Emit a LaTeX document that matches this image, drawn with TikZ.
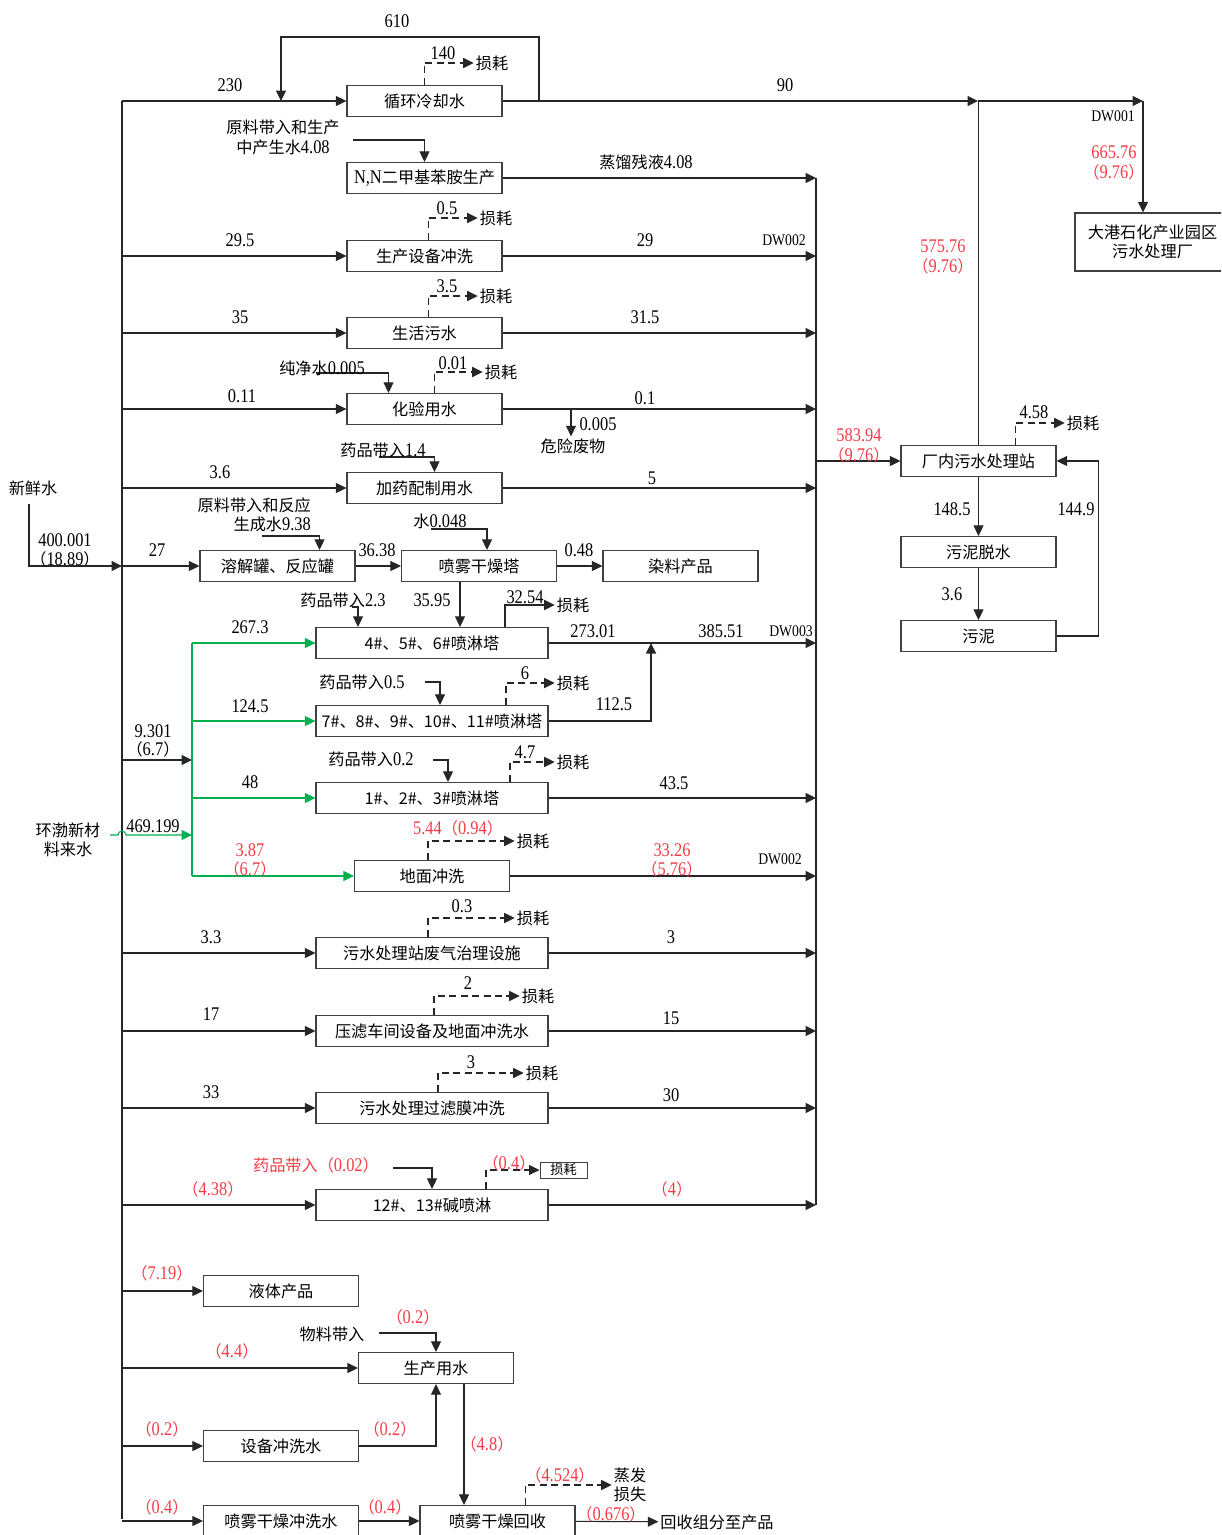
\documentclass[tikz,border=0pt]{standalone}
\usepackage{fontspec}
\setmainfont{Liberation Serif}[FakeStretch=0.85]
\newfontfamily\cjk{Noto Sans CJK SC}
\usepackage{xcolor}
\usepackage{tikz}
\usetikzlibrary{arrows.meta,calc}

\definecolor{redtxt}{RGB}{245,60,70}
\definecolor{grn}{RGB}{0,176,80}
\newcommand\fcn{\fontsize{9.2pt}{11pt}\cjk}
\newcommand\fnm{\fontsize{11pt}{11pt}\rmfamily}
\newcommand\numtxt[1]{{\fontsize{11pt}{11pt}\rmfamily #1}}
\newcommand\fwp[1]{{\fontsize{9.2pt}{11pt}\cjk （}#1{\fontsize{9.2pt}{11pt}\cjk ）}}

\begin{document}
\begin{tikzpicture}[x=0.02cm,y=-0.02cm,
            box/.style={draw=black!75,line width=0.7pt,minimum width=3.1cm,minimum height=0.62cm,inner sep=1pt,font=\fcn},
            widebox/.style={box,minimum width=4.64cm},
            flow/.style={draw=black!85,line width=0.6pt,-{Triangle[length=2.1mm,width=2mm]}},
            link/.style={draw=black!85,line width=0.6pt},
            loss/.style={flow,dash pattern=on 4pt off 2.5pt},
            gflow/.style={flow,draw=grn},
            glink/.style={link,draw=grn},
            num/.style={inner sep=1pt,font=\fnm},
            dwtag/.style={inner sep=1pt,font=\fontsize{9.2pt}{11pt}\rmfamily},
            rnum/.style={num,text=redtxt},
            cn/.style={inner sep=1pt,font=\fcn},
            rcn/.style={cn,text=redtxt}
        ]
            \useasboundingbox (0,0) rectangle (1221,1535);
            \clip (0,0) rectangle (1221,1535);

            % Process units
            \node[box] (cool) at (424.5,101) {循环冷却水};
            \node[box] (nn) at (424.5,178) {\numtxt{N,N}二甲基苯胺生产};
            \node[box] (equip) at (424.5,256) {生产设备冲洗};
            \node[box] (domestic) at (424.5,333) {生活污水};
            \node[box] (lab) at (424.5,409) {化验用水};
            \node[box] (dosing) at (424.5,488) {加药配制用水};
            \node[box] (tank) at (277.5,566) {溶解罐、反应罐};
            \node[box] (dryer) at (479,566) {喷雾干燥塔};
            \node[box] (dye) at (680.5,566) {染料产品};
            \node[widebox] (t456) at (432,643) {4\#、5\#、6\#喷淋塔};
            \node[widebox] (t7) at (432,721) {7\#、8\#、9\#、10\#、11\#喷淋塔};
            \node[widebox] (t123) at (432,798) {1\#、2\#、3\#喷淋塔};
            \node[box] (ground) at (432,876) {地面冲洗};
            \node[widebox] (gas) at (432,953) {污水处理站废气治理设施};
            \node[widebox] (press) at (432,1031) {压滤车间设备及地面冲洗水};
            \node[widebox] (membrane) at (432,1108) {污水处理过滤膜冲洗};
            \node[widebox] (alkali) at (432,1205) {12\#、13\#碱喷淋};
            \node[box] (liquid) at (281,1291) {液体产品};
            \node[box] (prodw) at (436,1368) {生产用水};
            \node[box] (equipw) at (281,1446) {设备冲洗水};
            \node[box] (dryw) at (281,1521) {喷雾干燥冲洗水};
            \node[box] (dryrec) at (497.5,1521) {喷雾干燥回收};

            % Treatment side
            \node[box] (wwtp) at (978.5,461) {厂内污水处理站};
            \node[box] (dewat) at (978.5,552) {污泥脱水};
            \node[box] (sludge) at (978.5,636) {污泥};
            \node[box,minimum height=1.16cm,align=center] (park) at (1152.5,242) {大港石化产业园区\\污水处理厂};

            % Junctions
            \coordinate (ttop) at (122,101);
            \coordinate (tbot) at (122,1519);
            \coordinate (fin) at (122,566);
            \coordinate (ctop) at (816,178);
            \coordinate (cbot) at (816,1205);
            \coordinate (j1) at (978,101);
            \coordinate (j2) at (1143,101);
            \coordinate (lpa) at (539,101);
            \coordinate (lpb) at (281,37);
            \coordinate (lpc) at (281,101);
            \coordinate (gj) at (192,760);
            \coordinate (hbin) at (110,835);
            \coordinate (mj) at (651,643);
            \coordinate (hw) at (571,409);
            \coordinate (rawin) at (353,140);
            \coordinate (pwin) at (316,373);
            \coordinate (dsin) at (379,457);
            \coordinate (rxin) at (262,536);
            \coordinate (wtin) at (431,529);
            \coordinate (c23) at (352,607);
            \coordinate (c05) at (425,682);
            \coordinate (c02) at (433,760);
            \coordinate (c002) at (393,1168);
            \coordinate (cmat) at (379,1333);
            \coordinate (pj) at ($(prodw.south)+(28,0)$);

            % Fresh water
            \node[cn] (fresh) at (33,488) {新鲜水};
            \node[num] (v400) at (65,540) {400.001};
            \node[num] (v400b) at (65,559) {\fwp{18.89}};
            \draw[flow] ($(fresh.south)+(-4,6)$) |- (fin);
            \draw[link] (ttop) -- (tbot);
            \draw[flow] (ttop) -- (cool.west);
            \foreach \b in {equip,domestic,lab,dosing,tank,gas,press,membrane,alkali,liquid,prodw,equipw,dryw} {
                \draw[flow] (\b.west -| ttop) -- (\b.west);
            }

            % Collector to the plant station
            \draw[link] (ctop) -- (cbot);
            \foreach \b in {nn,equip,domestic,lab,dosing,t456,t123,ground,gas,press,membrane,alkali} {
                \draw[flow] (\b.east) -- (\b.east -| ctop);
            }
            \draw[flow] (t7.east) -| (mj);
            \draw[flow] (wwtp.west -| ctop) -- (wwtp.west);

            % Cooling loop and outfall
            \draw[flow] (lpa) |- (lpb) -- (lpc);
            \draw[flow] (cool.east) -- (j1);
            \draw[flow] (j1) -- (j2);
            \draw[flow] (j2) -- (j2 |- park.north);
            \draw[link] (wwtp.north) -- (wwtp.north |- j1);
            \draw[flow] (wwtp) -- (dewat);
            \draw[flow] (dewat) -- (sludge);
            \draw[flow] (sludge.east) -- ++(42,0) |- (wwtp.east);

            % Reused water (green)
            \node[cn,align=center] (hb) at (68,840) {环渤新材\\料来水};
            \draw[flow] (gj -| ttop) -- (gj);
            \draw[glink] (t456.west -| gj) -- (ground.west -| gj);
            \foreach \b in {t456,t7,t123,ground} {
                \draw[gflow] (\b.west -| gj) -- (\b.west);
            }
            \draw[gflow] (hbin) -- (118,835) arc[start angle=180,end angle=0,radius=0.08cm] -- (gj |- hbin);

            % Side inputs
            \draw[flow] (rawin) -| (nn.north);
            \draw[flow] (pwin) -| ($(lab.north)+(-36,0)$);
            \draw[flow] (dsin) -| ($(dosing.north)+(10,0)$);
            \draw[flow] (rxin) -| ($(tank.north)+(42,0)$);
            \draw[flow] (wtin) -| ($(dryer.north)+(8,0)$);
            \draw[flow] (c23) -| ($(t456.north)+(-74,0)$);
            \draw[flow] ($(dryer.south)+(-19,0)$) -- ($(t456.north)+(28,0)$);
            \draw[flow] (c05) -| ($(t7.north)+(8,0)$);
            \draw[flow] (c02) -| ($(t123.north)+(16,0)$);
            \draw[flow] (c002) -| (alkali.north);
            \draw[flow] (cmat) -| (prodw.north);
            \draw[flow] (tank) -- (dryer);
            \draw[flow] (dryer) -- (dye);
            \draw[flow] (equipw.east) -| (prodw.south);
            \draw[flow] (pj) -- (pj |- dryrec.north);
            \draw[flow] (dryw) -- (dryrec);

            % Losses
            \node[cn] (lcool) at (492,63) {损耗};
            \node[cn] (lequip) at (496,218) {损耗};
            \node[cn] (ldom) at (496,296) {损耗};
            \node[cn] (llab) at (501,372) {损耗};
            \node[cn] (l456) at (573,605) {损耗};
            \node[cn] (lt7) at (573,683) {损耗};
            \node[cn] (lt123) at (573,762) {损耗};
            \node[cn] (lground) at (533,841) {损耗};
            \node[cn] (lgas) at (533,918) {损耗};
            \node[cn] (lpress) at (538,996) {损耗};
            \node[cn] (lmem) at (542,1073) {损耗};
            \node[draw=black!75,line width=0.5pt,inner sep=0.5pt,minimum width=0.94cm,minimum height=0.32cm,font=\fontsize{7.5pt}{8pt}\cjk] (lalk) at (563.5,1170) {损耗};
            \node[cn] (lwwtp) at (1083,423) {损耗};
            \node[cn,align=center] (evap) at (630,1485) {蒸发\\损失};
            \node[cn] (haz) at (573,446) {危险废物};
            \node[cn] (recv) at (717,1522) {回收组分至产品};
            \draw[loss] (cool.north) |- (lcool.west);
            \draw[loss] ($(equip.north)+(4,0)$) |- (lequip.west);
            \draw[loss] ($(domestic.north)+(4,0)$) |- (ldom.west);
            \draw[loss] ($(lab.north)+(10,0)$) |- (llab.west);
            \draw[flow] ($(t456.north)+(73,0)$) |- (l456.west);
            \draw[loss] ($(t7.north)+(74,0)$) |- (lt7.west);
            \draw[loss] ($(t123.north)+(78,0)$) |- (lt123.west);
            \draw[loss] ($(ground.north)+(-4,0)$) |- (lground.west);
            \draw[loss] ($(gas.north)+(-4,0)$) |- (lgas.west);
            \draw[loss] ($(press.north)+(2,0)$) |- (lpress.west);
            \draw[loss] ($(membrane.north)+(6,0)$) |- (lmem.west);
            \draw[loss] ($(alkali.north)+(54,0)$) |- (lalk.west);
            \draw[loss] ($(wwtp.north)+(37,0)$) |- (lwwtp.west);
            \draw[loss] ($(dryrec.north)+(28,0)$) |- (evap.west);
            \draw[flow] (hw) -- (hw |- haz.north);
            \draw[flow] (dryrec) -- (recv);

            % Flow values
            \node[num] (v610) at (397,21) {610};
            \node[num] (v230) at (230,85) {230};
            \node[num] (v140) at (443,53) {140};
            \node[cn,align=center] (vraw) at (283,137.5) {原料带入和生产\\中产生水\numtxt{4.08}};
            \node[num] (v90) at (785,85) {90};
            \node[dwtag] (dw1) at (1113,116) {DW001};
            \node[rnum] (v665) at (1114,152) {665.76};
            \node[rnum] (v665b) at (1114,172) {\fwp{9.76}};
            \node[cn] (vres) at (646,162) {蒸馏残液\numtxt{4.08}};
            \node[num] (v05) at (447,208) {0.5};
            \node[num] (v295) at (240,240) {29.5};
            \node[num] (v29) at (645,240) {29};
            \node[dwtag] (dw2) at (784,240) {DW002};
            \node[rnum] (v575) at (943,246) {575.76};
            \node[rnum] (v575b) at (943,266) {\fwp{9.76}};
            \node[num] (v35a) at (447,286) {3.5};
            \node[num] (v35) at (240,317) {35};
            \node[num] (v315) at (645,317) {31.5};
            \node[cn] (vpw) at (322,368) {纯净水\numtxt{0.005}};
            \node[num] (v001) at (453,363) {0.01};
            \node[num] (v011) at (242,396) {0.11};
            \node[num] (v01) at (645,398) {0.1};
            \node[num] (v0005) at (598,424) {0.005};
            \node[rnum] (v583) at (859,435) {583.94};
            \node[rnum] (v583b) at (859,455) {\fwp{9.76}};
            \node[num] (v458) at (1034,412) {4.58};
            \node[cn] (vds) at (383,450) {药品带入\numtxt{1.4}};
            \node[num] (v36) at (220,472) {3.6};
            \node[num] (v5) at (652,478) {5};
            \node[num] (v1485) at (952,509) {148.5};
            \node[num] (v1449) at (1076,509) {144.9};
            \node[cn,align=right,anchor=east] (vrx) at (313,515) {原料带入和反应\\生成水\numtxt{9.38}};
            \node[cn] (vwt) at (440,521) {水\numtxt{0.048}};
            \node[num] (v27) at (157,550) {27};
            \node[num] (v3638) at (377,550) {36.38};
            \node[num] (v048) at (579,550) {0.48};
            \node[num] (v36b) at (952,594) {3.6};
            \node[cn] (v23) at (343,600) {药品带入\numtxt{2.3}};
            \node[num] (v3595) at (432,600) {35.95};
            \node[num] (v3254) at (525,597) {32.54};
            \node[num] (v2673) at (250,627) {267.3};
            \node[num] (v27301) at (593,631) {273.01};
            \node[num] (v38551) at (721,631) {385.51};
            \node[dwtag] (dw3) at (791,631) {DW003};
            \node[num] (v6) at (525,673) {6};
            \node[cn] (v05b) at (362,682) {药品带入\numtxt{0.5}};
            \node[num] (v1245) at (250,706) {124.5};
            \node[num] (v1125) at (614,704) {112.5};
            \node[num] (v9301) at (153,731) {9.301};
            \node[num] (v9301b) at (153,749) {\fwp{6.7}};
            \node[cn] (v02b) at (371,759) {药品带入\numtxt{0.2}};
            \node[num] (v47) at (525,752) {4.7};
            \node[num] (v48) at (250,782) {48};
            \node[num] (v435) at (674,783) {43.5};
            \node[num] (v469) at (153,826) {469.199};
            \node[rnum] (v544) at (458,828) {5.44\fwp{0.94}};
            \node[rnum] (v387) at (250,850) {3.87};
            \node[rnum] (v387b) at (250,869) {\fwp{6.7}};
            \node[rnum] (v3326) at (672,850) {33.26};
            \node[rnum] (v3326b) at (672,869) {\fwp{5.76}};
            \node[dwtag] (dw2b) at (780,859) {DW002};
            \node[num] (v03) at (462,906) {0.3};
            \node[num] (v33) at (211,937) {3.3};
            \node[num] (v3) at (671,937) {3};
            \node[num] (v2) at (468,983) {2};
            \node[num] (v17) at (211,1014) {17};
            \node[num] (v15) at (671,1018) {15};
            \node[num] (v3b) at (471,1062) {3};
            \node[num] (v33b) at (211,1092) {33};
            \node[num] (v30) at (671,1095) {30};
            \node[rcn] (v002) at (316,1165) {药品带入（\numtxt{0.02}）};
            \node[rnum] (v04a) at (509,1163) {\fwp{0.4}};
            \node[rnum] (v438) at (213,1189) {\fwp{4.38}};
            \node[rnum] (v4) at (672,1189) {\fwp{4}};
            \node[rnum] (v719) at (162,1273) {\fwp{7.19}};
            \node[rnum] (v02c) at (413,1317) {\fwp{0.2}};
            \node[cn] (vmat) at (332,1334) {物料带入};
            \node[rnum] (v44) at (232,1351) {\fwp{4.4}};
            \node[rnum] (v02d) at (162,1429) {\fwp{0.2}};
            \node[rnum] (v02e) at (390,1429) {\fwp{0.2}};
            \node[rnum] (v48b) at (487,1444) {\fwp{4.8}};
            \node[rnum] (v4524) at (560,1475) {\fwp{4.524}};
            \node[rnum] (v04b) at (162,1507) {\fwp{0.4}};
            \node[rnum] (v04c) at (385,1507) {\fwp{0.4}};
            \node[rnum] (v0676) at (611,1514) {\fwp{0.676}};
        \end{tikzpicture}
\end{document}
